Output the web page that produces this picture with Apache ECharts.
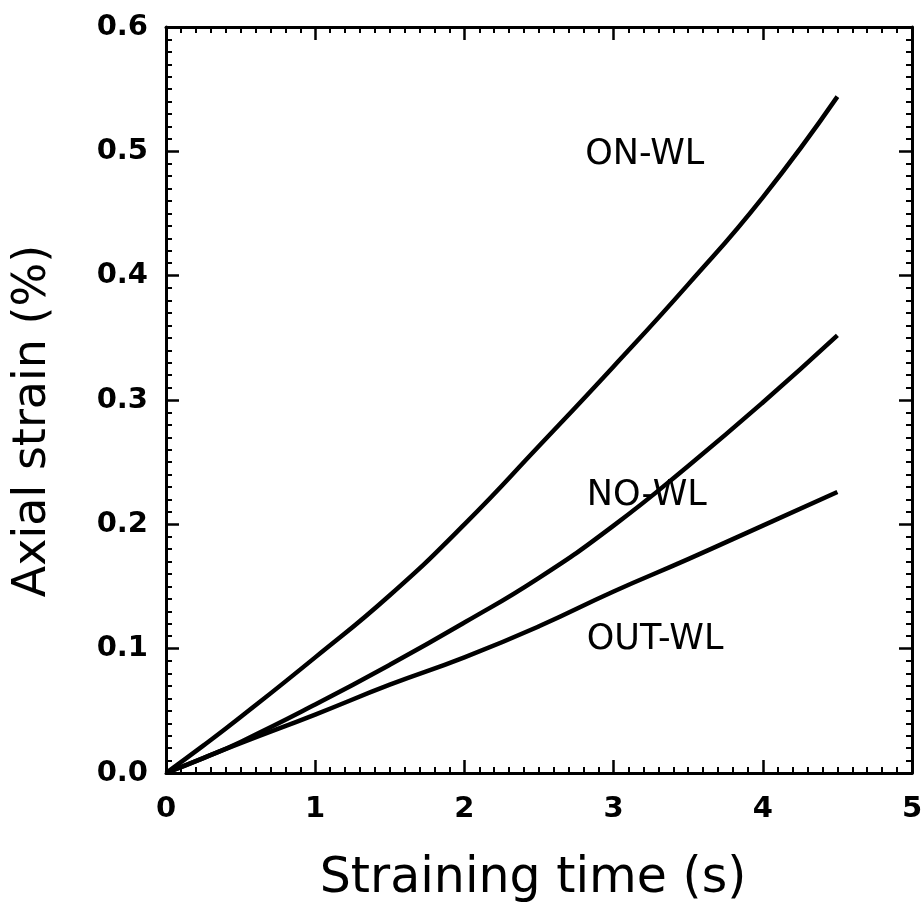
<!DOCTYPE html>
<html>
<head>
<meta charset="utf-8">
<script src="https://cdn.jsdelivr.net/npm/echarts@6/dist/echarts.min.js"></script>
<style>
  html, body { margin: 0; padding: 0; background: #fff; }
  #chart { width: 922px; height: 905px; }
</style>
</head>
<body>
<div id="chart"></div>
<script>
// straining time (s)
const times = [0, 0.25, 0.5, 1, 1.5, 2, 2.5, 3, 3.5, 4, 4.5];
// axial strain (%)
const onWL  = [0, 0.022, 0.045, 0.093, 0.143, 0.200, 0.263, 0.327, 0.393, 0.463, 0.544];
const noWL  = [0, 0.012, 0.025, 0.055, 0.087, 0.121, 0.157, 0.199, 0.247, 0.298, 0.352];
const outWL = [0, 0.012, 0.024, 0.047, 0.071, 0.093, 0.118, 0.146, 0.172, 0.199, 0.226];

const curveNames = ['ON-WL', 'NO-WL', 'OUT-WL'];
// where each curve name sits, in data units
const labelSpots = [[2.81, 0.497], [2.82, 0.223], [2.82, 0.107]];

const xTicks = [0, 1, 2, 3, 4, 5];
const yTicks = [0, 0.1, 0.2, 0.3, 0.4, 0.5, 0.6];

const ink = '#000';
const chart = echarts.init(document.getElementById('chart'));

function pairs(ys) {
    return times.map((t, i) => [t, ys[i]]);
}

function frameAxis(pos, min, max, step, showLabels, fmt) {
    return {
        type: 'value',
        position: pos,
        min: min,
        max: max,
        interval: step,
        axisLine: { show: true, onZero: false, lineStyle: { color: ink, width: 3 } },
        axisTick: { show: true, inside: true, length: 13, lineStyle: { color: ink, width: 2.5 } },
        minorTick: { show: true, splitNumber: 10, length: 6, lineStyle: { color: ink, width: 2 } },
        splitLine: { show: false },
        axisLabel: {
            show: showLabels,
            color: ink,
            fontFamily: 'DejaVu Sans',
            fontWeight: 'bold',
            fontSize: 29,
            margin: pos === 'bottom' ? 22 : 18,
            formatter: fmt
        }
    };
}

const lineSeries = [onWL, noWL, outWL].map((ys, i) => ({
    name: curveNames[i],
    type: 'line',
    data: pairs(ys),
    smooth: true,
    showSymbol: false,
    lineStyle: { color: ink, width: 4.5 },
    z: 3
}));

const option = {
    backgroundColor: '#fff',
    animation: false,
    grid: { left: 166, top: 27, right: 10, bottom: 132, containLabel: false, outerBoundsMode: 'none' },
    xAxis: [
        Object.assign(frameAxis('bottom', xTicks[0], xTicks[xTicks.length - 1], 1, true, v => String(v)), {
            name: 'Straining time (s)',
            nameLocation: 'middle',
            nameGap: 82,
            nameTextStyle: { color: ink, fontFamily: 'DejaVu Sans', fontSize: 49, padding: [0, 12, 0, 0] }
        }),
        frameAxis('top', xTicks[0], xTicks[xTicks.length - 1], 1, false)
    ],
    yAxis: [
        Object.assign(frameAxis('left', yTicks[0], yTicks[yTicks.length - 1], 0.1, true, v => v.toFixed(1)), {
            name: 'Axial strain (%)',
            nameLocation: 'middle',
            nameGap: 110,
            nameTextStyle: { color: ink, fontFamily: 'DejaVu Sans', fontSize: 46, padding: [0, 42, 0, 0] }
        }),
        frameAxis('right', yTicks[0], yTicks[yTicks.length - 1], 0.1, false)
    ],
    series: lineSeries.concat([{
        type: 'scatter',
        symbolSize: 0,
        itemStyle: { opacity: 1 },
        data: labelSpots.map((p, i) => ({ value: p, name: curveNames[i] })),
        label: {
            show: true,
            position: 'right',
            distance: 0,
            formatter: p => p.name,
            color: ink,
            opacity: 1,
            fontFamily: 'DejaVu Sans',
            fontSize: 35
        },
        z: 4
    }])
};

chart.setOption(option);
</script>
</body>
</html>
